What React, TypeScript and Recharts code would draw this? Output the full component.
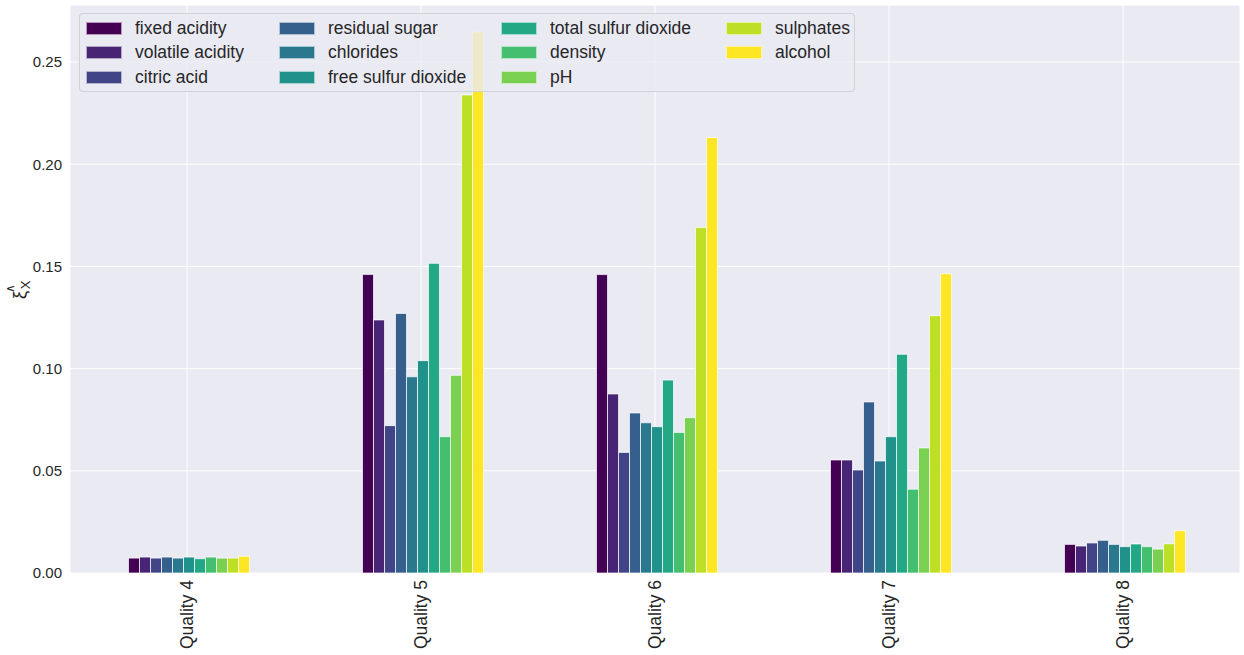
import { BarChart, Bar, XAxis, YAxis, CartesianGrid } from "recharts";

const qualities = ["Quality 4", "Quality 5", "Quality 6", "Quality 7", "Quality 8"];

const features = [
  "fixed acidity",
  "volatile acidity",
  "citric acid",
  "residual sugar",
  "chlorides",
  "free sulfur dioxide",
  "total sulfur dioxide",
  "density",
  "pH",
  "sulphates",
  "alcohol",
];

const colors = [
  "#440154",
  "#482475",
  "#414487",
  "#355f8d",
  "#2a788e",
  "#21918c",
  "#22a884",
  "#44bf70",
  "#7ad151",
  "#bddf26",
  "#fde725",
];

// one array per feature, in quality order 4..8
const fixedAcidity = [0.0073, 0.1461, 0.146, 0.0553, 0.014];
const volatileAcidity = [0.0078, 0.1238, 0.0876, 0.0553, 0.0132];
const citricAcid = [0.0073, 0.0721, 0.059, 0.0504, 0.0147];
const residualSugar = [0.0078, 0.127, 0.0783, 0.0837, 0.016];
const chlorides = [0.0073, 0.096, 0.0735, 0.0548, 0.014];
const freeSulfur = [0.0078, 0.1039, 0.0716, 0.0667, 0.0129];
const totalSulfur = [0.007, 0.1515, 0.0944, 0.107, 0.0142];
const density = [0.0078, 0.0667, 0.0688, 0.041, 0.0129];
const pH = [0.0073, 0.0967, 0.076, 0.0612, 0.0117];
const sulphates = [0.0073, 0.2339, 0.169, 0.1259, 0.0143];
const alcohol = [0.0082, 0.2647, 0.213, 0.1464, 0.0207];

const series = [
  fixedAcidity,
  volatileAcidity,
  citricAcid,
  residualSugar,
  chlorides,
  freeSulfur,
  totalSulfur,
  density,
  pH,
  sulphates,
  alcohol,
];

const yTicks = [0, 0.05, 0.1, 0.15, 0.2, 0.25];

const data = qualities.map((q, i) => {
  const row: Record<string, number | string> = { name: q };
  features.forEach((f, j) => {
    row[f] = series[j][i];
  });
  return row;
});

const font = "'Liberation Sans', Arial, sans-serif";
const textColor = "#262626";

function QualityTick({ x, payload }: any) {
  // start the rotated label just under the plot bottom (y = 573)
  const top = 580;
  return (
    <text
      x={x}
      y={top}
      transform={`rotate(-90, ${x}, ${top})`}
      textAnchor="end"
      dominantBaseline="central"
      fontSize={17.5}
      fill={textColor}
      fontFamily={font}
    >
      {payload.value}
    </text>
  );
}

// legend columns: left offset of each column inside the legend box
const colLefts = [6, 199, 421, 646];
const rowTops = [7, 31, 56];

function WineLegend() {
  return (
    <div
      style={{
        position: "absolute",
        left: 79,
        top: 13,
        width: 776,
        height: 79,
        background: "rgba(234,234,242,0.8)",
        border: "1px solid rgba(204,204,204,0.8)",
        borderRadius: 4,
        boxSizing: "border-box",
        fontFamily: font,
        fontSize: 17.5,
        color: textColor,
      }}
    >
      {features.map((f, i) => {
        const col = Math.floor(i / 3);
        const row = i % 3;
        return (
          <div
            key={f}
            style={{
              position: "absolute",
              left: colLefts[col],
              top: rowTops[row],
              display: "flex",
              alignItems: "center",
              height: 14,
              whiteSpace: "nowrap",
            }}
          >
            <span
              style={{
                display: "inline-block",
                width: 34,
                height: 11,
                background: colors[i],
                border: "0.5px solid rgba(255,255,255,0.6)",
                marginRight: 13,
              }}
            />
            <span>{f}</span>
          </div>
        );
      })}
    </div>
  );
}

export default function App() {
  return (
    <div style={{ position: "absolute", left: 0, top: 0, width: 1244, height: 655, background: "#fff" }}>
      <BarChart
        width={1244}
        height={655}
        data={data}
        margin={{ top: 5, right: 4, left: 0, bottom: 0 }}
        barCategoryGap="25%"
        barGap={0}
      >
        <CartesianGrid stroke="#ffffff" strokeWidth={1} fill="#eaeaf2" />
        <XAxis
          dataKey="name"
          axisLine={false}
          tickLine={false}
          height={82}
          interval={0}
          tick={<QualityTick />}
        />
        <YAxis
          domain={[0, 0.2779]}
          ticks={yTicks}
          width={70}
          axisLine={false}
          tickLine={false}
          tickSize={8}
          tickFormatter={(v: number) => v.toFixed(2)}
          tick={{ fontSize: 15, fill: textColor, fontFamily: font }}
          tickMargin={0}
        />
        {features.map((f, i) => (
          <Bar
            key={f}
            dataKey={f}
            fill={colors[i]}
            stroke="#ffffff"
            strokeWidth={0.7}
            isAnimationActive={false}
          />
        ))}
      </BarChart>
      <WineLegend />
      <svg
        width={40}
        height={80}
        style={{ position: "absolute", left: 0, top: 249 }}
      >
        <g transform="rotate(-90, 20, 40)">
          <text x={14} y={46} fontSize={19} fontFamily={font} fill={textColor} textAnchor="middle">
            ξ
          </text>
          <text x={24} y={50} fontSize={13} fontFamily={font} fill={textColor} textAnchor="middle">
            X
          </text>
          <text x={21} y={34} fontSize={12} fontFamily={font} fill={textColor} textAnchor="middle">
            ∧
          </text>
        </g>
      </svg>
    </div>
  );
}
